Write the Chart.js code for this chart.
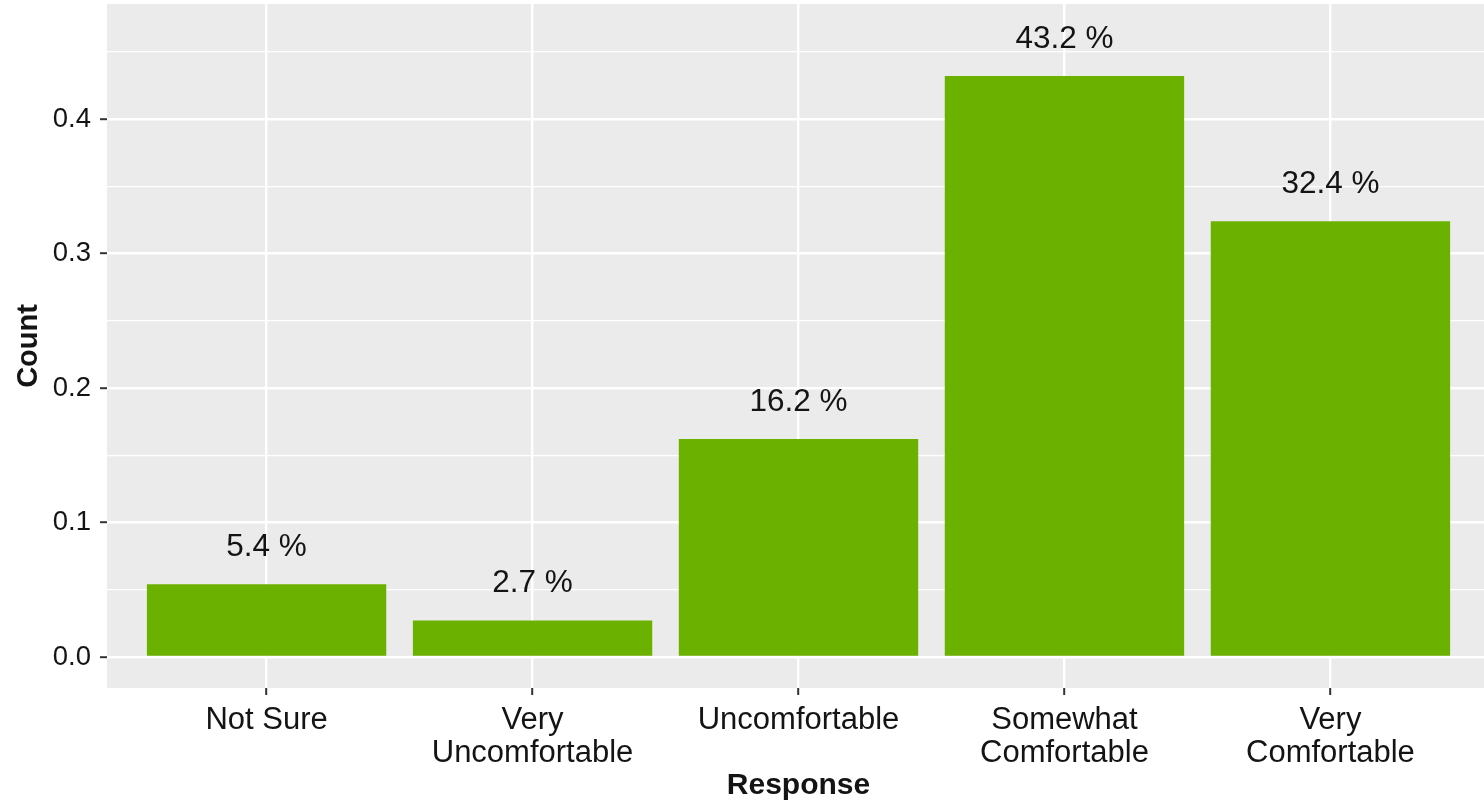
<!DOCTYPE html>
<html>
<head>
<meta charset="utf-8">
<script src="https://cdn.jsdelivr.net/npm/chart.js@4/dist/chart.umd.min.js"></script>
<style>
  html,body{margin:0;padding:0;background:#fff;overflow:hidden;}
  #wrap{width:1490px;height:804px;position:relative;}
</style>
</head>
<body>
<div id="wrap"><canvas id="myChart"></canvas></div>
<script>
const categories=[["Not Sure"],["Very","Uncomfortable"],["Uncomfortable"],["Somewhat","Comfortable"],["Very","Comfortable"]];
const shares=[0.054,0.027,0.162,0.432,0.324];
const yTicks=[0,0.05,0.1,0.15,0.2,0.25,0.3,0.35,0.4,0.45];
const labelLift=0.0275;   // text sits a bit above each bar

const FONT="'Liberation Sans', Arial, Helvetica, sans-serif";
const TEXT="#141414";

function isMajor(v)
{
  return Math.abs(Math.round(v*10)-v*10)<1e-6;
}

// grey ggplot-ish panel behind everything
const panelBg={
  id:'panelBg',
  beforeDraw(chart){
    const a=chart.chartArea;
    const c=chart.ctx;
    c.save();
    c.fillStyle='#EBEBEB';
    c.fillRect(a.left,a.top,a.right-a.left,a.bottom-a.top);
    c.restore();
  }
};

// percent text above each bar
const barText={
  id:'barText',
  afterDatasetsDraw(chart){
    const c=chart.ctx;
    const xs=chart.scales.x, ys=chart.scales.y;
    c.save();
    c.font="31.5px "+FONT;
    c.fillStyle=TEXT;
    c.textAlign='center';
    c.textBaseline='middle';
    for(var i=0;i<shares.length;i++)
    {
      c.fillText((shares[i]*100).toFixed(1)+" %",xs.getPixelForValue(i+1),ys.getPixelForValue(shares[i]+labelLift));
    }
    c.restore();
  }
};

const points=shares.map((v,i)=>({x:i+1,y:v}));

const ctx=document.getElementById('myChart').getContext('2d');
const myChart=new Chart(ctx,{
  type:'bar',
  data:{
    datasets:[{
      data:points,
      backgroundColor:'#6BB100',
      borderWidth:0,
      categoryPercentage:1,
      barPercentage:0.9
    }]
  },
  options:{
    responsive:true,
    maintainAspectRatio:false,
    devicePixelRatio:1,
    animation:false,
    layout:{autoPadding:false,padding:{top:4,left:0,right:0,bottom:0}},
    plugins:{legend:{display:false},tooltip:{enabled:false}},
    scales:{
      x:{
        type:'linear',
        bounds:'data',
        offset:false,
        min:0.4,
        max:5.6,
        afterBuildTicks:function(scale){
          scale.ticks=categories.map((c,i)=>({value:i+1}));
        },
        afterFit:function(scale){ scale.height=116; scale.paddingLeft=0; scale.paddingRight=0; },
        border:{display:false},
        grid:{offset:false,color:'#ffffff',lineWidth:2.4,tickColor:'#333333',tickWidth:2,tickLength:7},
        ticks:{
          color:TEXT,
          padding:9,
          maxRotation:0,
          autoSkip:false,
          font:{family:FONT,size:31,lineHeight:1.07},
          callback:function(v){ return categories[v-1]; }
        },
        title:{display:true,text:'Response',color:TEXT,padding:{top:0,bottom:0},
               font:{family:FONT,size:30,weight:'bold',lineHeight:1.2}}
      },
      y:{
        type:'linear',
        bounds:'data',
        min:-0.0231,
        max:0.4855,
        afterBuildTicks:function(scale){
          scale.ticks=yTicks.map(v=>({value:v}));
        },
        afterFit:function(scale){ scale.width=107; scale.paddingTop=0; scale.paddingBottom=0; },
        border:{display:false},
        grid:{
          color:'#ffffff',
          lineWidth:function(c){ return isMajor(c.tick.value)?2.4:1.2; },
          tickColor:function(c){ return isMajor(c.tick.value)?'#333333':'rgba(0,0,0,0)'; },
          tickWidth:2,
          tickLength:7
        },
        ticks:{
          color:TEXT,
          padding:9,
          font:{family:FONT,size:27.5},
          callback:function(v){ return isMajor(v)?v.toFixed(1):''; }
        },
        title:{display:true,text:'Count',color:TEXT,padding:{top:12,bottom:0},
               font:{family:FONT,size:29,weight:'bold',lineHeight:1.2}}
      }
    }
  },
  plugins:[panelBg,barText]
});
</script>
</body>
</html>
